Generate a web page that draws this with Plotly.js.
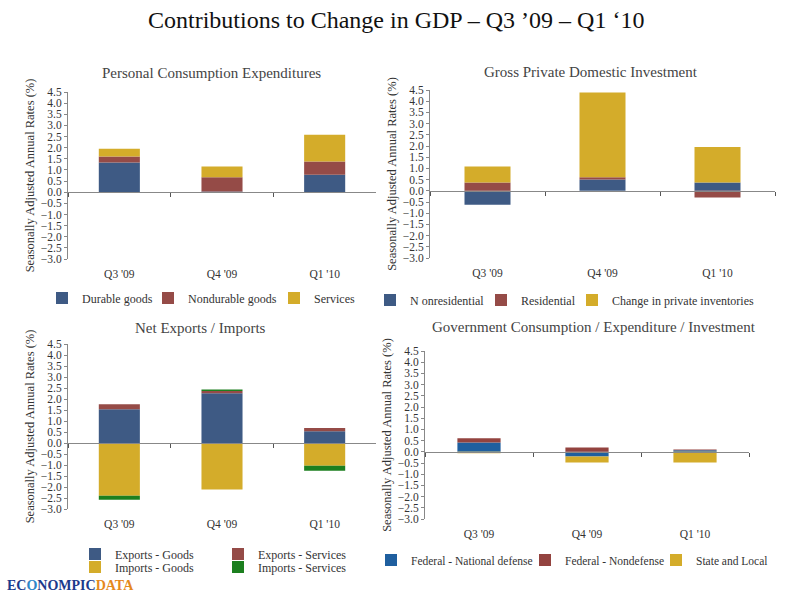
<!DOCTYPE html>
<html>
<head>
<meta charset="utf-8">
<script src="https://cdn.plot.ly/plotly-3.0.1.min.js"></script>
<style>html,body{margin:0;padding:0;background:#fff;}#chart{width:800px;height:600px;}</style>
</head>
<body>
<div id="chart"></div>
<script>
// ---- data ----
const quarters = ["Q3 '09", "Q4 '09", "Q1 '10"];

const pceDurable    = [1.33, 0.03, 0.78];
const pceNondurable = [0.27, 0.64, 0.60];
const pceServices   = [0.35, 0.48, 1.20];

const gpdiNonres = [-0.62, 0.50, 0.37];
const gpdiRes    = [0.37, 0.10, -0.30];
const gpdiInv    = [0.71, 3.79, 1.58];

const nxExpGoods = [1.53, 2.26, 0.53];
const nxExpServ  = [0.23, 0.10, 0.15];
const nxImpGoods = [-2.40, -2.11, -1.03];
const nxImpServ  = [-0.18, 0.07, -0.23];

const govDefense    = [0.42, -0.21, 0.07];
const govNondefense = [0.19, 0.19, 0.03];
const govStateLocal = [-0.07, -0.27, -0.48];

const yTitle = "Seasonally Adjusted Annual Rates (%)";
const mainTitle = "Contributions to Change in GDP \u2013 Q3 \u201909 \u2013 Q1 \u201810";
const panelTitles = ["Personal Consumption Expenditures", "Gross Private Domestic Investment",
                     "Net Exports / Imports", "Government Consumption / Expenditure / Investment"];

// ---- styling ----
const FONT = "Liberation Serif, DejaVu Serif, serif";
const C = {blue:'#3E5A84', red:'#954B47', gold:'#D4AC2A', govBlue:'#1F5F9F', govRed:'#93433F', green:'#1C7F1F'};
const W = 800, H = 600;
const YMIN = -3, YMAX = 4.5;

// plot areas in pixels [left, right, top, bottom]
const areas = [
  [68, 376, 92, 259],
  [430, 775, 90, 258],
  [68, 376, 344, 509],
  [425, 749, 351, 519]
];

// series definitions: [name, values, color, subplot index, legend swatch centre x, legend y, legend font size]
const series = [
  ['Durable goods', pceDurable, C.blue, 0, 62, 298, 12],
  ['Nondurable goods', pceNondurable, C.red, 0, 168, 298, 12],
  ['Services', pceServices, C.gold, 0, 294, 298, 12],
  ['N onresidential', gpdiNonres, C.blue, 1, 390, 300, 12],
  ['Residential', gpdiRes, C.red, 1, 501, 300, 12],
  ['Change in private inventories', gpdiInv, C.gold, 1, 592, 300, 12],
  ['Exports - Goods', nxExpGoods, C.blue, 2, 95, 554, 12],
  ['Exports - Services', nxExpServ, C.red, 2, 238, 554, 12],
  ['Imports - Goods', nxImpGoods, C.gold, 2, 95, 567, 12],
  ['Imports - Services', nxImpServ, C.green, 2, 238, 567, 12],
  ['Federal - National defense', govDefense, C.govBlue, 3, 391, 560, 11.5],
  ['Federal - Nondefense', govNondefense, C.govRed, 3, 545, 560, 11.5],
  ['State and Local', govStateLocal, C.gold, 3, 676, 560, 11.5]
];

const layout = {
  width:W, height:H, margin:{l:0,r:0,t:0,b:0},
  paper_bgcolor:'#fff', plot_bgcolor:'#fff',
  barmode:'relative', bargap:0.6, showlegend:true,
  font:{family:FONT, size:11, color:'#333'},
  annotations:[], shapes:[]
};

const data = series.map((s, k) => {
  const n = s[3] === 0 ? '' : String(s[3]+1);
  const legName = k === 0 ? 'legend' : 'legend' + (k+1);
  layout[legName] = {orientation:'h', x:(s[4]-20)/W, y:1 - s[5]/H, xanchor:'left', yanchor:'middle',
                     font:{family:FONT, size:s[6], color:'#333'}, bgcolor:'rgba(0,0,0,0)', borderwidth:0,
                     itemclick:false, visible:true};
  return {type:'bar', name:s[0], x:quarters, y:s[1], xaxis:'x'+n, yaxis:'y'+n, legend:legName,
          showlegend:true, marker:{color:s[2], line:{width:0}}, hoverinfo:'y+name'};
});

areas.forEach((a, i) => {
  const n = i === 0 ? '' : String(i+1);
  const xd = [a[0]/W, a[1]/W];
  const yd = [1 - a[3]/H, 1 - a[2]/H];
  const hpx = a[3] - a[2];
  const zeroFrac = (0 - YMIN)/(YMAX - YMIN);
  const zeroPos = yd[0] + zeroFrac*(yd[1]-yd[0]);
  layout['xaxis'+n] = {
    domain:xd, anchor:'free', position:zeroPos, type:'category',
    showline:true, linecolor:'#888', linewidth:1,
    ticks:'outside', tickson:'boundaries', ticklen:4, tickcolor:'#555',
    showgrid:false, zeroline:false, fixedrange:true,
    ticklabelstandoff: Math.round(zeroFrac*hpx) + 4,
    tickfont:{family:FONT, size:11.5, color:'#333'}
  };
  layout['yaxis'+n] = {
    domain:yd, anchor:'x'+n, range:[YMIN, YMAX], dtick:0.5, tick0:0, tickformat:'.1f',
    showline:true, linecolor:'#888', linewidth:1, ticks:'outside', ticklen:3, tickcolor:'#888',
    showgrid:false, zeroline:false, fixedrange:true,
    tickfont:{family:FONT, size:11.5, color:'#333'},
    title:{text:yTitle, font:{family:FONT, size:12.5, color:'#333'}, standoff:3}
  };
  layout.annotations.push({
    text:panelTitles[i], xref:'paper', yref:'paper',
    x:[211,591,201,594][i]/W, y:1 - [73,72,328,327][i]/H,
    xanchor:'center', yanchor:'middle', showarrow:false,
    font:{family:FONT, size:15, color:'#444'}
  });
});

layout.annotations.push({
  text:mainTitle, xref:'paper', yref:'paper', x:396/W, y:1-20/H,
  xanchor:'center', yanchor:'middle', showarrow:false,
  font:{family:FONT, size:24, color:'#111'}
});
layout.annotations.push({
  text:'<b><span style="color:#1B3A8C">EC</span><span style="color:#2F86C8">O</span><span style="color:#1B3A8C">NOMPIC</span><span style="color:#E5891C">DATA</span></b>',
  xref:'paper', yref:'paper', x:5/W, y:1-585/H, xanchor:'left', yanchor:'middle', showarrow:false,
  font:{family:FONT, size:14}
});

Plotly.newPlot('chart', data, layout, {displayModeBar:false, staticPlot:true});
</script>
</body>
</html>
